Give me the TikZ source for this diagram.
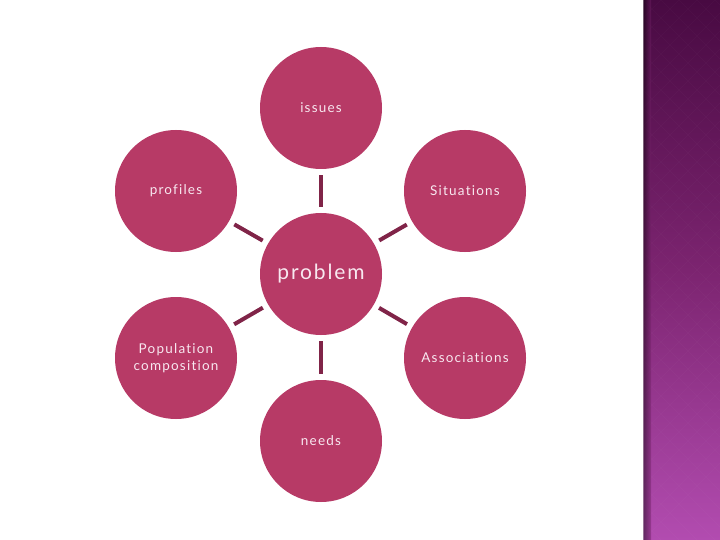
\documentclass[tikz,border=0pt]{standalone}
\usepackage{fontspec}
\setmainfont{Lato}[LetterSpace=9,Ligatures={NoCommon,NoContextual}]
\usetikzlibrary{fadings}
\definecolor{circfill}{RGB}{183,58,102}
\definecolor{linkcol}{RGB}{128,36,72}
\definecolor{txtcol}{RGB}{248,232,240}
\definecolor{striptop}{RGB}{72,10,66}
\definecolor{stripmid}{RGB}{124,36,112}
\definecolor{stripbot}{RGB}{178,76,176}
\begin{document}
\begin{tikzpicture}[x=1pt,y=-1pt,
  bubble/.style={circle,fill=circfill,minimum size=122pt,inner sep=0pt,text=txtcol,font=\fontsize{13.5}{16.5}\selectfont,align=center},
  link/.style={draw=linkcol,line width=4pt,shorten <=6pt,shorten >=6pt}]
\useasboundingbox (0,0) rectangle (720,540);
\fill[white] (0,0) rectangle (720,540);
% right strip
\shade[top color=striptop,bottom color=stripbot,middle color=stripmid] (643,0) rectangle (720,540);
\begin{scope}
\clip (643,0) rectangle (720,540);
\foreach \i in {-30,...,30}{
  \draw[white,opacity=0.02,line width=0.8pt] (643+\i*18,0) -- ++(540,540);
  \draw[white,opacity=0.02,line width=0.8pt] (643+\i*18,0) -- ++(-540,540);
}
\end{scope}
\shade[left color=black,right color=stripmid,opacity=0.45] (643,0) rectangle (651,540);
\fill[white,opacity=0.35] (642,0) rectangle (644,540);
% nodes
\node[bubble,font=\fontsize{21}{25}\selectfont] (prob) at (321,274) {problem};
\node[bubble] (iss) at (321,108) {issues};
\node[bubble] (prof) at (176,191) {profiles};
\node[bubble] (sit) at (465,191) {Situations};
\node[bubble] (pop) at (176,358) {Population\\composition};
\node[bubble] (assoc) at (465,358) {Associations};
\node[bubble] (need) at (321,441) {needs};
% links
\foreach \n in {iss,prof,sit,pop,assoc,need}{
  \draw[link] (prob) -- (\n);
}
\end{tikzpicture}
\end{document}
